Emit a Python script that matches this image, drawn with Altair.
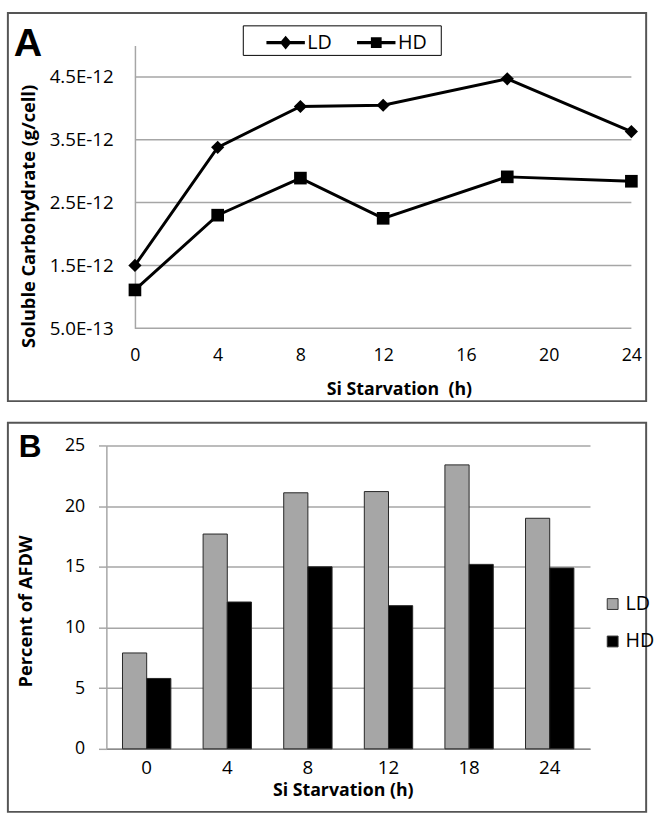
import altair as alt
import pandas as pd

# ---------------- data ----------------
series = ["LD", "HD"]

# Panel A: soluble carbohydrate (g/cell)
hours_a = [0, 4, 8, 12, 18, 24]
ld_carb = [1.50e-12, 3.38e-12, 4.03e-12, 4.05e-12, 4.47e-12, 3.63e-12]
hd_carb = [1.11e-12, 2.30e-12, 2.89e-12, 2.25e-12, 2.91e-12, 2.84e-12]
x_ticks_a = [0, 4, 8, 12, 16, 20, 24]
y_ticks_a = [0.5e-12, 1.5e-12, 2.5e-12, 3.5e-12, 4.5e-12]

# Panel B: percent of AFDW
hours_b = ["0", "4", "8", "12", "18", "24"]
ld_afdw = [7.9, 17.7, 21.1, 21.2, 23.4, 19.0]
hd_afdw = [5.8, 12.1, 15.0, 11.8, 15.2, 14.9]
y_ticks_b = [0, 5, 10, 15, 20, 25]

df_a = pd.DataFrame({
    "hour": hours_a * 2,
    "value": ld_carb + hd_carb,
    "series": [series[0]] * len(hours_a) + [series[1]] * len(hours_a),
})
grid_a_df = pd.DataFrame({"value": y_ticks_a})
df_b = pd.DataFrame({
    "hour": hours_b * 2,
    "value": ld_afdw + hd_afdw,
    "series": [series[0]] * len(hours_b) + [series[1]] * len(hours_b),
})
panel_a_df = pd.DataFrame({"panel": ["A"]})
panel_b_df = pd.DataFrame({"panel": ["B"]})

FONT = "Open Sans"
GRID = "#a6a6a6"
FRAME = "#555555"

# ---------------- panel A ----------------
# view starts 29 px left of the y axis so both panels share one origin column
SHIFT = 29
WA, HA = 533, 287
x_a = alt.X(
    "hour:Q",
    scale=alt.Scale(domain=[0, 24], nice=False, zero=False, range=[SHIFT, WA]),
    axis=alt.Axis(
        values=x_ticks_a, title="Si Starvation\u00a0 (h)", grid=False, domain=False,
        ticks=False, tickSize=0, labelPadding=19, labelFontSize=18, labelFont=FONT,
        labelColor="black", labelFlush=False, labelOverlap=False,
        titleFont=FONT, titleFontSize=18, titleFontWeight="bold", titleColor="black",
        titleX=297, titleY=62, titleBaseline="middle", titleAlign="center",
    ),
)
y_a = alt.Y(
    "value:Q",
    scale=alt.Scale(domain=[0.5e-12, 5e-12], nice=False, zero=False),
    axis=alt.Axis(
        values=y_ticks_a, offset=-SHIFT,
        labelExpr="datum.value < 1e-12 ? format(datum.value*1e13, '.1f') + 'E-13' : format(datum.value*1e12, '.1f') + 'E-12'",
        title="Soluble Carbohydrate (g/cell)", grid=False,
        domain=True, domainColor=GRID, domainWidth=1.5, ticks=False, tickSize=0,
        labelPadding=22, labelFontSize=19, labelFont=FONT, labelColor="black",
        labelOverlap=False,
        titleFont=FONT, titleFontSize=18.5, titleFontWeight="bold", titleColor="black",
        titleX=-108, titleY=173, titleBaseline="middle", titleAlign="center",
    ),
)

base_a = alt.Chart(df_a)
grid_a = alt.Chart(grid_a_df).mark_rule(color=GRID, strokeWidth=1.5).encode(
    y=y_a, x=alt.datum(0), x2=alt.datum(24)
)
lines_a = base_a.mark_line(color="black", strokeWidth=3).encode(
    x=x_a, y=y_a, detail="series:N"
)
points_ld = base_a.mark_point(
    filled=True, color="black", opacity=1, shape="diamond", size=180
).encode(x=x_a, y=y_a).transform_filter(alt.datum.series == series[0])
points_hd = base_a.mark_point(
    filled=True, color="black", opacity=1, shape="square", size=165
).encode(x=x_a, y=y_a).transform_filter(alt.datum.series == series[1])

# legend symbols: a short thick line with the marker on it (filled paths)
path_ld = "M-1,-0.08H1V0.08H-1ZM0,-0.36L0.3,0L0,0.36L-0.3,0Z"
path_hd = "M-1,-0.08H1V0.08H-1ZM-0.28,-0.28H0.28V0.28H-0.28Z"
legend_a = base_a.mark_point(filled=True, color="black", opacity=1).encode(
    shape=alt.Shape(
        "series:N",
        scale=alt.Scale(domain=series, range=[path_ld, path_hd]),
        legend=alt.Legend(
            title=None, orient="none", legendX=162, legendY=-23, direction="horizontal",
            symbolSize=1521, symbolFillColor="black", symbolStrokeColor="black",
            symbolStrokeWidth=0.5, labelFont=FONT, labelFontSize=20, labelColor="black",
            labelOffset=2, columnPadding=24, padding=0,
        ),
    ),
).transform_filter("false")

legend_box_a = alt.Chart(panel_a_df).mark_rect(
    fill="transparent", stroke="black", strokeWidth=1
).encode(x=alt.value(139), x2=alt.value(340), y=alt.value(-20), y2=alt.value(10))
frame_a = alt.Chart(panel_a_df).mark_rect(
    fill="transparent", stroke=FRAME, strokeWidth=2
).encode(x=alt.value(-100), x2=alt.value(548), y=alt.value(-33), y2=alt.value(361))
letter_a = alt.Chart(panel_a_df).mark_text(
    font="Liberation Sans", fontSize=40, fontWeight="bold", align="left",
    baseline="alphabetic", color="black"
).encode(text="panel:N", x=alt.value(-94), y=alt.value(11))

panel_a = alt.layer(
    frame_a, grid_a, lines_a, points_ld, points_hd, legend_a, legend_box_a, letter_a
).properties(width=WA, height=HA)

# ---------------- panel B ----------------
WB, HB = 491, 308
bars_b = alt.Chart(df_b).mark_bar(stroke="#262626", strokeWidth=1).encode(
    x=alt.X(
        "hour:N", sort=hours_b,
        scale=alt.Scale(paddingInner=0.4, paddingOuter=0.2),
        axis=alt.Axis(
            title="Si Starvation (h)", labelAngle=0, ticks=False, tickSize=0,
            domain=True, domainColor="#8c8c8c", domainWidth=1.5,
            labelPadding=10, labelFontSize=19, labelFont=FONT, labelColor="black",
            titleFont=FONT, titleFontSize=18, titleFontWeight="bold", titleColor="black",
            titleX=240, titleY=42, titleBaseline="middle", titleAlign="center",
        ),
    ),
    xOffset=alt.XOffset("series:N", sort=series, scale=alt.Scale(domain=series, paddingInner=0)),
    y=alt.Y(
        "value:Q", scale=alt.Scale(domain=[0, 25], nice=False),
        axis=alt.Axis(
            values=y_ticks_b, title="Percent of AFDW", grid=True, gridColor=GRID,
            gridWidth=1.5, domain=True, domainColor=GRID, domainWidth=1.5,
            ticks=True, tickSize=8, tickColor=GRID, tickWidth=1.5,
            labelPadding=14, labelFontSize=18, labelFont=FONT, labelColor="black",
            titleFont=FONT, titleFontSize=18.5, titleFontWeight="bold", titleColor="black",
            titleX=-82, titleY=168, titleBaseline="middle", titleAlign="center",
        ),
    ),
    color=alt.Color(
        "series:N", sort=series,
        scale=alt.Scale(domain=series, range=["#a6a6a6", "#000000"]),
        legend=alt.Legend(
            title=None, orient="none", legendX=504, legendY=151, direction="vertical",
            symbolType="square", symbolSize=121, symbolStrokeColor="#333333",
            symbolStrokeWidth=1, labelFont=FONT, labelFontSize=20, labelColor="black",
            labelOffset=3, rowPadding=18, padding=0,
        ),
    ),
)
frame_b = alt.Chart(panel_b_df).mark_rect(
    fill="transparent", stroke=FRAME, strokeWidth=2
).encode(x=alt.value(-100), x2=alt.value(548), y=alt.value(-23), y2=alt.value(372))
letter_b = alt.Chart(panel_b_df).mark_text(
    font="Liberation Sans", fontSize=32, fontWeight="bold", align="left",
    baseline="alphabetic", color="black"
).encode(text="panel:N", x=alt.value(-89), y=alt.value(12))

panel_b = alt.layer(frame_b, bars_b, letter_b).properties(width=WB, height=HB)

chart = alt.vconcat(
    panel_a, panel_b, spacing=18
).resolve_scale(
    x="independent", y="independent", color="independent", shape="independent"
).resolve_legend(
    color="independent", shape="independent"
).properties(
    padding={"left": 6, "top": 5, "right": 0, "bottom": 0}, background="white"
).configure_view(stroke="transparent")

chart.save("out.html", embed_options={"renderer": "svg", "actions": False})
